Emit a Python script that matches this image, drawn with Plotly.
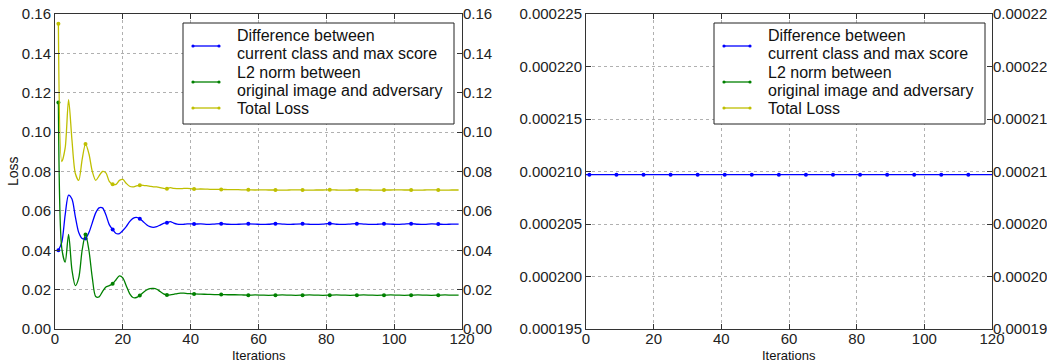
import plotly.graph_objects as go

# ---------------- data ----------------
iters = list(range(1, 41)) + list(range(41, 121, 2))

diff_loss = [0.040, 0.044, 0.058, 0.068, 0.066, 0.057, 0.049, 0.046, 0.046, 0.049,
             0.054, 0.059, 0.0615, 0.0615, 0.058, 0.053, 0.0505, 0.0485, 0.0485, 0.050,
             0.052, 0.0545, 0.0562, 0.0567, 0.056, 0.0545, 0.053, 0.052, 0.0516, 0.052,
             0.0528, 0.0536, 0.054, 0.0545, 0.0538, 0.0533, 0.0531, 0.0532, 0.0534, 0.0534,
             0.0533, 0.0534, 0.0531, 0.0533, 0.0535, 0.0532, 0.0531, 0.0533, 0.0534, 0.0533,
             0.0531, 0.0532, 0.0535, 0.0533, 0.0531, 0.0533, 0.0534, 0.0532, 0.0531, 0.0533,
             0.0536, 0.0532, 0.0531, 0.0533, 0.0535, 0.0533, 0.0531, 0.0532, 0.0534, 0.0533,
             0.0531, 0.0533, 0.0535, 0.0532, 0.0531, 0.0534, 0.0533, 0.0531, 0.0533, 0.0533]

l2_loss = [0.115, 0.041, 0.034, 0.048, 0.030, 0.022, 0.026, 0.040, 0.048, 0.040,
           0.026, 0.0165, 0.0163, 0.019, 0.0213, 0.022, 0.023, 0.025, 0.027, 0.026,
           0.022, 0.018, 0.016, 0.016, 0.017, 0.0185, 0.0198, 0.0205, 0.0206, 0.0202,
           0.019, 0.0178, 0.0173, 0.0173, 0.0176, 0.018, 0.0182, 0.0182, 0.018, 0.0179,
           0.0178, 0.0177, 0.0176, 0.0175, 0.0175, 0.0174, 0.0174, 0.0173, 0.0172, 0.0173,
           0.0172, 0.0171, 0.0172, 0.0173, 0.0172, 0.0171, 0.0172, 0.0173, 0.0172, 0.0171,
           0.0172, 0.0173, 0.0172, 0.0171, 0.0172, 0.0173, 0.0172, 0.0171, 0.0172, 0.0173,
           0.0172, 0.0171, 0.0172, 0.0173, 0.0172, 0.0171, 0.0172, 0.0173, 0.0172, 0.0172]

total_loss = [0.155, 0.085, 0.092, 0.1165, 0.096, 0.079, 0.0755, 0.086, 0.094, 0.089,
              0.080, 0.0755, 0.0778, 0.080, 0.0793, 0.075, 0.0735, 0.0735, 0.0755, 0.076,
              0.074, 0.0725, 0.0722, 0.0727, 0.073, 0.073, 0.0728, 0.0725, 0.0722, 0.0722,
              0.0718, 0.0714, 0.0713, 0.0718, 0.0714, 0.0713, 0.0713, 0.0714, 0.0714, 0.0713,
              0.0711, 0.0711, 0.0710, 0.0709, 0.0709, 0.0708, 0.0708, 0.0707, 0.0707, 0.0706,
              0.0707, 0.0706, 0.0706, 0.0705, 0.0706, 0.0707, 0.0706, 0.0705, 0.0706, 0.0706,
              0.0707, 0.0706, 0.0705, 0.0706, 0.0706, 0.0707, 0.0706, 0.0705, 0.0706, 0.0706,
              0.0707, 0.0706, 0.0706, 0.0705, 0.0706, 0.0707, 0.0706, 0.0705, 0.0706, 0.0706]

right_iters = list(range(0, 121))
right_diff_value = 0.0002097

marker_iters = list(range(1, 121, 8))

x_ticks = [0, 20, 40, 60, 80, 100, 120]
left_ticks = [0.00, 0.02, 0.04, 0.06, 0.08, 0.10, 0.12, 0.14, 0.16]
right_ticks = [0.000195, 0.000200, 0.000205, 0.000210, 0.000215, 0.000220, 0.000225]
right_ticks_twin_text = ["0.00019", "0.00020", "0.00020", "0.00021", "0.00021", "0.00022", "0.00022"]

legend_lines = [["Difference between", "current class and max score"],
                ["L2 norm between", "original image and adversary"],
                ["Total Loss"]]
colors = ["#0000ff", "#008000", "#bfbf00"]

# ---------------- figure ----------------
W, H = 1047, 362
ML, MR, MT, MB = 55, 55, 14, 33
PW, PH = W - ML - MR, H - MT - MB

def px(x):
    return (x - ML) / PW

def py(y):
    return (H - MB - y) / PH

fig = go.Figure()
series = [diff_loss, l2_loss, total_loss]

for vals, col in zip(series, colors):
    fig.add_trace(go.Scatter(x=iters, y=vals, mode="lines",
                             line=dict(color=col, width=1.3, shape="spline", smoothing=0.8),
                             xaxis="x", yaxis="y", showlegend=False, hoverinfo="skip"))
    mx = [i for i in marker_iters if i in iters]
    my = [vals[iters.index(i)] for i in mx]
    fig.add_trace(go.Scatter(x=mx, y=my, mode="markers", marker=dict(color=col, size=4),
                             xaxis="x", yaxis="y", showlegend=False))

# right panel
right_vals = [right_diff_value for _ in right_iters]
fig.add_trace(go.Scatter(x=right_iters, y=right_vals, mode="lines", line=dict(color=colors[0], width=1.3),
                         xaxis="x2", yaxis="y2", showlegend=False))
fig.add_trace(go.Scatter(x=marker_iters, y=[right_diff_value for _ in marker_iters], mode="markers",
                         marker=dict(color=colors[0], size=4), xaxis="x2", yaxis="y2", showlegend=False))

# invisible traces to activate twin axes
fig.add_trace(go.Scatter(x=[None], y=[None], xaxis="x", yaxis="y3", showlegend=False))
fig.add_trace(go.Scatter(x=[None], y=[None], xaxis="x2", yaxis="y4", showlegend=False))

fam = "Liberation Sans, Arial, sans-serif"
font = dict(family=fam, size=15, color="#222")
axcommon = dict(showline=True, linecolor="#333", linewidth=1, mirror="ticks", ticks="inside",
                ticklen=5, tickcolor="#333", showgrid=True, gridcolor="#b0b0b0", griddash="dot",
                gridwidth=1, zeroline=False, tickfont=font, automargin=False)

d1 = [0, px(462)]
d2 = [px(586), 1]

# ---- manual legends (matplotlib style) ----
shapes = []
annotations = []
sym_y = [46, 82, 108]
text_y = [[35, 53.5], [72.5, 90], [108]]
for box_left, box_right in [(183, 454), (714, 985)]:
    shapes.append(dict(type="rect", xref="paper", yref="paper", x0=px(box_left), x1=px(box_right),
                       y0=py(124), y1=py(23), line=dict(color="#222", width=1), fillcolor="white",
                       layer="above"))
    lx0, lx1 = box_left + 10, box_left + 36
    for lines, col, yy, tys in zip(legend_lines, colors, sym_y, text_y):
        shapes.append(dict(type="line", xref="paper", yref="paper", x0=px(lx0), x1=px(lx1),
                           y0=py(yy), y1=py(yy), line=dict(color=col, width=1.3), layer="above"))
        for xx in (lx0, lx1):
            shapes.append(dict(type="circle", xref="paper", yref="paper",
                               x0=px(xx - 1.6), x1=px(xx + 1.6), y0=py(yy + 1.6), y1=py(yy - 1.6),
                               line=dict(color=col, width=0), fillcolor=col, layer="above"))
        for txt, ty in zip(lines, tys):
            annotations.append(dict(xref="paper", yref="paper", x=px(box_left + 52), y=py(ty),
                                    xanchor="left", yanchor="middle", align="left", showarrow=False,
                                    text=txt, font=dict(family=fam, size=16, color="#111")))

annotations.append(dict(xref="paper", yref="paper", x=px(13), y=py(171), textangle=-90,
                        xanchor="center", yanchor="middle", showarrow=False, text="Loss",
                        font=dict(family=fam, size=14, color="#111")))
for cx in (258.5, 789):
    annotations.append(dict(xref="paper", yref="paper", x=px(cx), y=py(355.5),
                            xanchor="center", yanchor="middle", showarrow=False, text="Iterations",
                            font=dict(family=fam, size=13, color="#111")))

fig.update_layout(
    width=W, height=H,
    margin=dict(l=ML, r=MR, t=MT, b=MB),
    paper_bgcolor="white", plot_bgcolor="white",
    font=font, showlegend=False,
    xaxis=dict(domain=d1, range=[0, 120], tickvals=x_ticks, anchor="y", ticklabelstandoff=-4, **axcommon),
    yaxis=dict(domain=[0, 1], range=[0, 0.16], tickvals=left_ticks, tickformat=".2f", anchor="x",
               **axcommon),
    yaxis3=dict(overlaying="y", side="right", range=[0, 0.16], tickvals=left_ticks, tickformat=".2f",
                anchor="x", showgrid=False, zeroline=False, ticks="", tickfont=font, showline=False,
                automargin=False),
    xaxis2=dict(domain=d2, range=[0, 120], tickvals=x_ticks, anchor="y2", ticklabelstandoff=-4, **axcommon),
    yaxis2=dict(domain=[0, 1], range=[0.000195, 0.000225], tickvals=right_ticks, tickformat=".6f",
                anchor="x2", **axcommon),
    yaxis4=dict(overlaying="y2", side="right", range=[0.000195, 0.000225], tickvals=right_ticks,
                ticktext=right_ticks_twin_text, anchor="x2", showgrid=False, zeroline=False, ticks="",
                tickfont=font, showline=False, automargin=False),
    shapes=shapes,
    annotations=annotations,
)

fig.write_html("out.html", config={"displayModeBar": False},
               post_script="document.body.style.margin='0';document.body.style.overflow='hidden';")
